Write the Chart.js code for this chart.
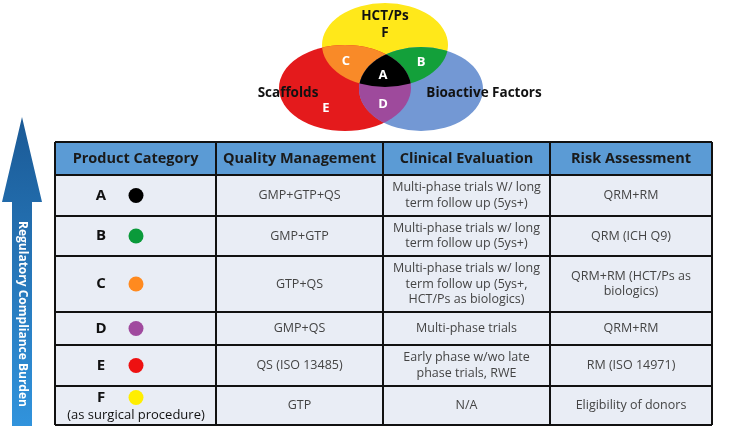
<!DOCTYPE html>
<html><head><meta charset="utf-8">
<script src="https://cdn.jsdelivr.net/npm/chart.js@4"></script>
<style>html,body{margin:0;padding:0;background:#fff}#w{width:730px;height:430px}</style>
</head><body><div id="w"><canvas id="c"></canvas></div>
<script>
const headers = ["Product Category","Quality Management","Clinical Evaluation","Risk Assessment"];
const categories = ["A","B","C","D","E","F"];
const categoryNotes = ["","","","","","(as surgical procedure)"];
const categoryColors = ["#000000","#0a9a3a","#ff8a1f","#a04a9e","#ee1111","#ffee00"];
const qualityManagement = [["GMP+GTP+QS"],["GMP+GTP"],["GTP+QS"],["GMP+QS"],["QS (ISO 13485)"],["GTP"]];
const clinicalEvaluation = [
 ["Multi-phase trials W/ long","term follow up (5ys+)"],
 ["Multi-phase trials w/ long","term follow up (5ys+)"],
 ["Multi-phase trials w/ long","term follow up (5ys+,","HCT/Ps as biologics)"],
 ["Multi-phase trials"],
 ["Early phase w/wo late","phase trials, RWE"],
 ["N/A"]];
const riskAssessment = [["QRM+RM"],["QRM (ICH Q9)"],["QRM+RM (HCT/Ps as","biologics)"],["QRM+RM"],["RM (ISO 14971)"],["Eligibility of donors"]];
const vennSets = ["HCT/Ps","Scaffolds","Bioactive Factors"];
const arrowLabel = "Regulatory Compliance Burden";

const colX = [55,216,383,550,712];
const rowY = [142,175,216,256,312,345,386,425];
const F = '"Open Sans", "Liberation Sans", sans-serif';

const plugin = {
 id:'fig',
 afterDraw(chart){
  const ctx = chart.ctx, sx = chart.scales.x, sy = chart.scales.y;
  const X = v=>sx.getPixelForValue(v), Y = v=>sy.getPixelForValue(v);
  ctx.save();
  const E = {Y:[385,45,63,42], R:[345,88,66,43], B:[421,89,62,42]};
  const path = e=>{ctx.beginPath();ctx.ellipse(X(e[0]),Y(e[1]),e[2],e[3],0,0,Math.PI*2);};
  const fillE=(e,c)=>{path(e);ctx.fillStyle=c;ctx.fill();};
  fillE(E.Y,'#ffe81a'); fillE(E.R,'#e41a1c'); fillE(E.B,'#7398d4');
  const inter=(list,c)=>{ctx.save();for(let i=1;i<list.length;i++){path(list[i]);ctx.clip();}fillE(list[0],c);ctx.restore();};
  inter([E.Y,E.R],'#f98a28'); inter([E.Y,E.B],'#13a03a'); inter([E.R,E.B],'#9e4a9c'); inter([E.Y,E.R,E.B],'#000');
  ctx.textAlign='center'; ctx.textBaseline='middle';
  ctx.fillStyle='#111'; ctx.font='bold 13.5px '+F;
  ctx.fillText(vennSets[0],X(385),Y(16)); ctx.fillText('F',X(385),Y(33));
  ctx.fillText(vennSets[1],X(288),Y(93)); ctx.fillText(vennSets[2],X(484),Y(93));
  ctx.fillStyle='#fff'; ctx.font='bold 13px '+F;
  [['C',346,61],['B',421,62],['A',383,75],['D',383,104],['E',326,108]].forEach(t=>ctx.fillText(t[0],X(t[1]),Y(t[2])));
  const g=ctx.createLinearGradient(0,Y(118),0,Y(425)); g.addColorStop(0,'#1b5a96'); g.addColorStop(1,'#3193dc');
  ctx.fillStyle=g; ctx.beginPath();
  ctx.moveTo(X(22),Y(117)); ctx.lineTo(X(42),Y(202)); ctx.lineTo(X(32),Y(202)); ctx.lineTo(X(32),Y(426));
  ctx.lineTo(X(12),Y(426)); ctx.lineTo(X(12),Y(202)); ctx.lineTo(X(2),Y(202)); ctx.closePath(); ctx.fill();
  ctx.save(); ctx.translate(X(22),Y(314)); ctx.rotate(Math.PI/2); ctx.fillStyle='#fff'; ctx.font='bold 12px '+F;
  ctx.fillText(arrowLabel,0,0); ctx.restore();
  ctx.fillStyle='#5b9bd5'; ctx.fillRect(X(55),Y(142),X(712)-X(55),Y(175)-Y(142));
  ctx.fillStyle='#e9edf5'; ctx.fillRect(X(55),Y(175),X(712)-X(55),Y(425)-Y(175));
  ctx.fillStyle='#1a1a1a'; ctx.font='bold 14.5px '+F;
  headers.forEach((h,i)=>ctx.fillText(h,(X(colX[i])+X(colX[i+1]))/2,Y(159)));
  const cols=[qualityManagement,clinicalEvaluation,riskAssessment];
  categories.forEach((c,r)=>{
   const cy=(Y(rowY[r+1])+Y(rowY[r+2]))/2;
   ctx.fillStyle='#111'; ctx.font='bold 15px '+F;
   const note=categoryNotes[r];
   const ly = note? cy-8 : cy;
   ctx.fillText(c,X(101),ly);
   ctx.beginPath(); ctx.arc(X(136),ly,7.5,0,Math.PI*2); ctx.fillStyle=categoryColors[r]; ctx.fill();
   if(note){ctx.fillStyle='#111'; ctx.font='13px '+F; ctx.fillText(note,X(136),cy+10);}
   ctx.fillStyle='#444'; ctx.font='12.5px '+F;
   cols.forEach((col,ci)=>{
    const lines=col[r], lh=15.5, x=(X(colX[ci+1])+X(colX[ci+2]))/2;
    lines.forEach((t,k)=>ctx.fillText(t,x,cy+(k-(lines.length-1)/2)*lh));
   });
  });
  ctx.strokeStyle='#111'; ctx.lineWidth=2;
  rowY.forEach(y=>{ctx.beginPath();ctx.moveTo(X(55),Y(y));ctx.lineTo(X(712),Y(y));ctx.stroke();});
  colX.forEach(x=>{ctx.beginPath();ctx.moveTo(X(x),Y(142));ctx.lineTo(X(x),Y(425));ctx.stroke();});
  ctx.restore();
 }
};
new Chart(document.getElementById('c'),{
 type:'scatter',
 data:{datasets:[{data:[]}]},
 options:{responsive:true,maintainAspectRatio:false,animation:false,
  layout:{padding:0},
  plugins:{legend:{display:false},tooltip:{enabled:false}},
  scales:{x:{type:'linear',min:0,max:730,display:false},y:{type:'linear',min:0,max:430,reverse:true,display:false}}},
 plugins:[plugin]
});
</script></body></html>
